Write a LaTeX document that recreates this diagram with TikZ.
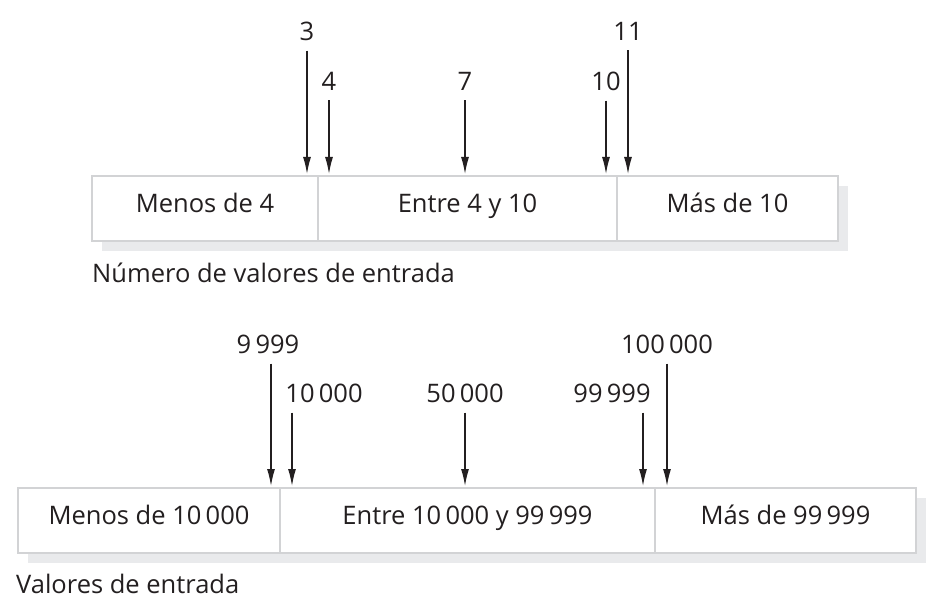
\documentclass[tikz,border=0pt]{standalone}
\usepackage{fontspec}
\setmainfont{Open Sans}
\usetikzlibrary{positioning, arrows.meta}

\definecolor{tinta}{RGB}{35,31,32}
\definecolor{borde}{RGB}{210,211,213}
\definecolor{sombra}{RGB}{233,234,236}

\tikzset{
  celda/.style={draw=borde, line width=1.2pt, fill=white, minimum height=65pt,
    inner sep=0pt, outer sep=0pt, text=tinta, text height=0.714em, text depth=0pt},
  marco/.style={draw=borde, line width=2.4pt},
  valor/.style={text=tinta, inner sep=0pt},
  flecha/.style={-{Latex[length=17pt,width=8pt]}, line width=1.3pt, draw=tinta},
}

\begin{document}
\begin{tikzpicture}[x=1pt, y=-1pt, font=\fontsize{25.5}{30}\selectfont]
\useasboundingbox (0,0) rectangle (933,609);

% caja superior
\fill[sombra] (102,186) rectangle (848,251); % sombra
\node[celda, minimum width=226pt, anchor=north west] (menos4) at (92,176) {Menos de 4};
\node[celda, minimum width=299pt, right=0pt of menos4] (entre4) {Entre 4 y 10};
\node[celda, minimum width=221pt, right=0pt of entre4] (mas10) {Más de 10};
\draw[marco] (menos4.north west) rectangle (mas10.south east);
\node[valor, anchor=base west] (num) at (92,283) {Número de valores de entrada};

% valores superiores
\node[valor] (n3) at (307,31) {3};
\node[valor] (n4) at (329,81) {4};
\node[valor] (n7) at (465,81) {7};
\node[valor] (n10) at (606,81) {10};
\node[valor] (n11) at (628,31) {11};

% flechas superiores
\draw[flecha] ([yshift=-10pt]n3.south) -- ([yshift=2pt]n3.south |- menos4.north);
\draw[flecha] ([yshift=-10pt]n4.south) -- ([yshift=2pt]n4.south |- menos4.north);
\draw[flecha] ([yshift=-10pt]n7.south) -- ([yshift=2pt]n7.south |- entre4.north);
\draw[flecha] ([yshift=-10pt]n10.south) -- ([yshift=2pt]n10.south |- entre4.north);
\draw[flecha] ([yshift=-10pt]n11.south) -- ([yshift=2pt]n11.south |- mas10.north);

% caja inferior
\fill[sombra] (28,498) rectangle (926,563); % sombra
\node[celda, minimum width=262pt, anchor=north west] (menos10k) at (18,488) {Menos de 10\,000};
\node[celda, minimum width=375pt, right=0pt of menos10k] (entre10k) {Entre 10\,000 y 99\,999};
\node[celda, minimum width=261pt, right=0pt of entre10k] (mas99k) {Más de 99\,999};
\draw[marco] (menos10k.north west) rectangle (mas99k.south east);
\node[valor, anchor=base west] (val) at (16,593) {Valores de entrada};

% valores inferiores
\node[valor] (v9999) at (268,344) {9\,999};
\node[valor] (v10000) at (324,393) {10\,000};
\node[valor] (v50000) at (465,393) {50\,000};
\node[valor] (v99999) at (612,393) {99\,999};
\node[valor] (v100000) at (667,344) {100\,000};

% flechas inferiores
\draw[flecha] ([xshift=3pt, yshift=-10pt]v9999.south) -- ([xshift=3pt, yshift=2pt]v9999.south |- menos10k.north);
\draw[flecha] ([xshift=-32pt, yshift=-10pt]v10000.south) -- ([xshift=-32pt, yshift=2pt]v10000.south |- entre10k.north);
\draw[flecha] ([yshift=-10pt]v50000.south) -- ([yshift=2pt]v50000.south |- entre10k.north);
\draw[flecha] ([xshift=31pt, yshift=-10pt]v99999.south) -- ([xshift=31pt, yshift=2pt]v99999.south |- entre10k.north);
\draw[flecha] ([yshift=-10pt]v100000.south) -- ([yshift=2pt]v100000.south |- mas99k.north);

\end{tikzpicture}
\end{document}
